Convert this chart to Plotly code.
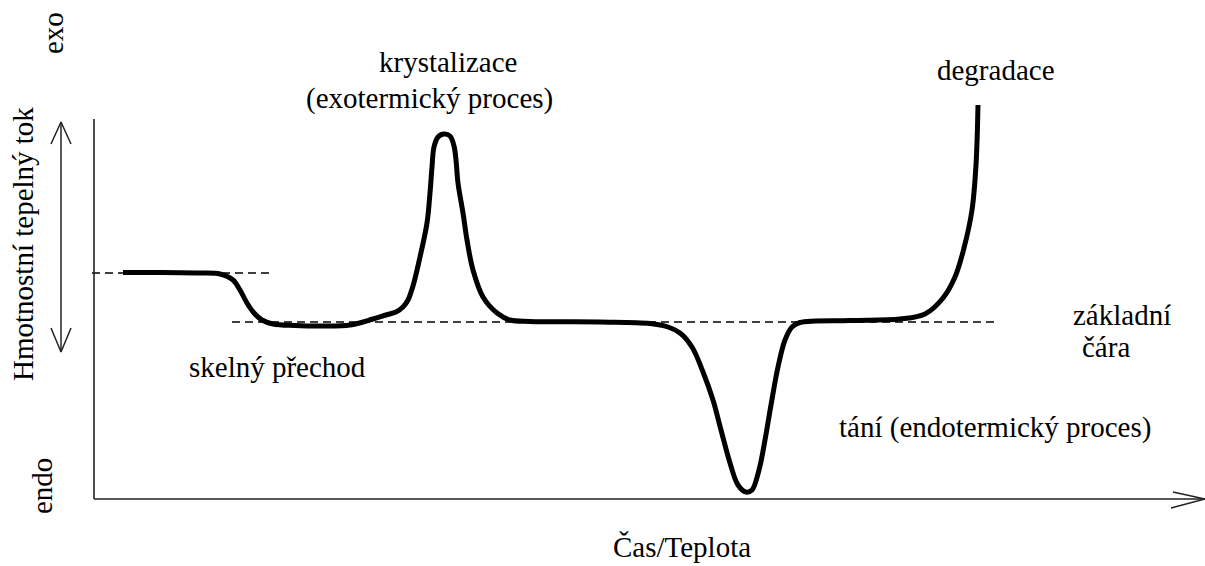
import plotly.graph_objects as go

# ---- schematic DSC curve (x: time/temperature, y: heat flow; origin at axes corner) ----
curve_x = [29, 66, 106, 126, 139, 146, 153, 160, 168, 179, 201, 229, 256, 279, 292, 302,
           309, 314, 319, 326, 333, 336, 338, 340, 344, 350, 356, 360, 362, 364, 369, 373, 379,
           389, 403, 416, 436, 506, 556, 574, 586, 598, 609, 619, 627, 636, 644, 652, 658,
           665, 671, 677, 684, 691, 698, 706, 756, 806, 831, 849, 861, 870, 878, 882, 884]
curve_y = [226.5, 226.5, 226, 225, 219, 209, 196, 186, 179, 175, 173.5, 173, 174, 180, 184, 187,
           192, 199, 213, 242, 276, 306, 332, 352, 362, 365, 363, 353, 339, 316, 286, 259, 229,
           202, 186, 179, 177.5, 177, 175.5, 172, 166, 152, 127, 99, 69, 36, 14, 7, 9,
           29, 59, 94, 132, 159, 172, 176.5, 178.5, 180, 185, 201, 222, 251, 289, 334, 394]

# baselines (dashed)
upper_base_x = [-2, 176]
upper_base_y = [226, 226]
lower_base_x = [138, 901]
lower_base_y = [177, 177]

# axes with arrows
axes_x = [0, 0, None, 0, 1111, None, 1079, 1111, 1077]
axes_y = [380, 0, None, 0, 0, None, 7, 0, -9]
dbl_arrow_x = [-33, -33, None, -43, -33, -23, None, -43, -33, -23]
dbl_arrow_y = [377, 147, None, 355, 377, 355, None, 171, 147, 171]

# labels: (text, x, y, angle)
label_text = ["krystalizace", "(exotermický proces)", "degradace", "skelný přechod",
              "základní", "čára", "tání (endotermický proces)", "Čas/Teplota",
              "exo", "endo", "Hmotnostní tepelný tok"]
label_x = [354, 335, 902, 183, 1028, 1012, 901, 588, -41, -52, -71]
label_y = [437, 401, 429, 132, 184, 152, 72, -48, 466, 13, 255]
label_angle = [0, 0, 0, 0, 0, 0, 0, 0, -90, -90, -90]

FONT = "Liberation Serif"

fig = go.Figure()
fig.add_trace(go.Scatter(x=upper_base_x, y=upper_base_y, mode="lines",
                         line=dict(color="black", width=1.3, dash="8px,5px"),
                         hoverinfo="skip"))
fig.add_trace(go.Scatter(x=lower_base_x, y=lower_base_y, mode="lines",
                         line=dict(color="black", width=1.3, dash="8px,5px"),
                         hoverinfo="skip"))
fig.add_trace(go.Scatter(x=axes_x, y=axes_y, mode="lines",
                         line=dict(color="#222222", width=1.6), hoverinfo="skip"))
fig.add_trace(go.Scatter(x=dbl_arrow_x, y=dbl_arrow_y, mode="lines",
                         line=dict(color="#222222", width=1.5), hoverinfo="skip"))
fig.add_trace(go.Scatter(x=curve_x, y=curve_y, mode="lines",
                         line=dict(color="black", width=5, shape="spline", smoothing=1.0),
                         hoverinfo="skip"))

for t, x, y, a in zip(label_text, label_x, label_y, label_angle):
    fig.add_annotation(x=x, y=y, xref="x", yref="y", text=t, showarrow=False,
                       textangle=a, xanchor="center", yanchor="middle",
                       font=dict(family=FONT, size=29, color="black"))

fig.update_layout(
    width=1205, height=566,
    margin=dict(l=0, r=0, t=0, b=0),
    paper_bgcolor="white", plot_bgcolor="white",
    showlegend=False,
    xaxis=dict(range=[-94, 1111], visible=False, fixedrange=True),
    yaxis=dict(range=[-67, 499], visible=False, fixedrange=True),
)

fig.write_html("out.html", config={"displayModeBar": False},
               post_script="document.body.style.margin='0';document.body.style.overflow='hidden';")
